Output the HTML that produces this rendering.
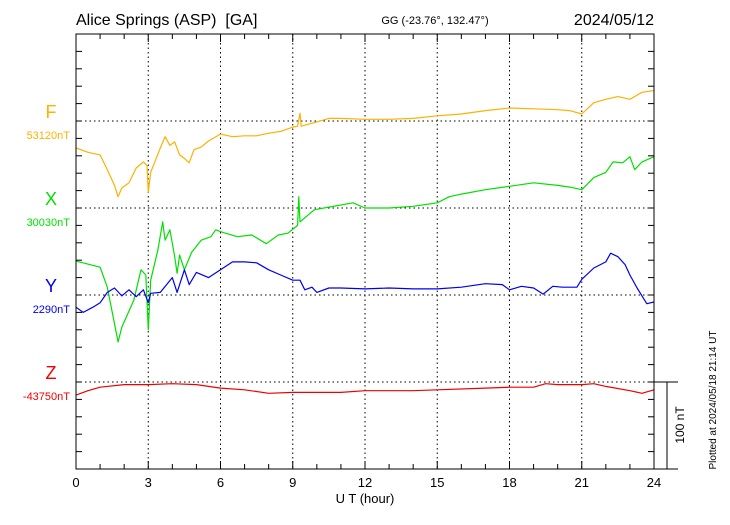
<!DOCTYPE html>
<html><head><meta charset="utf-8"><style>
body{margin:0;background:#fff}
svg{font-family:"Liberation Sans",sans-serif}
</style></head><body>
<svg id="chart" width="730" height="520" xmlns="http://www.w3.org/2000/svg">
<rect width="730" height="520" fill="#fff"/>
<g id="grid"></g>
<g id="series"></g>
<g id="axes"></g>
<text x="76" y="25" font-size="16">Alice Springs (ASP)&#160; [GA]</text>
<text x="435" y="24" font-size="11" text-anchor="middle">GG (-23.76°, 132.47°)</text>
<text x="654" y="25" font-size="16" text-anchor="end">2024/05/12</text>
<text x="365" y="503" font-size="13" text-anchor="middle">U T (hour)</text>
<text transform="translate(684,425) rotate(-90)" font-size="12" text-anchor="middle">100 nT</text>
<text transform="translate(716,400) rotate(-90)" font-size="10" text-anchor="middle">Plotted at 2024/05/18 21:14 UT</text>
</svg>
<script>
const hourTicks=[0,3,6,9,12,15,18,21,24];
const compNames=["F","X","Y","Z"];
const baselines=["53120nT","30030nT","2290nT","-43750nT"];
const compColors=["#FFB000","#00E000","#0000EE","#EE0000"];
const fT=[0,0.5,1,1.3,1.6,1.75,1.9,2.2,2.5,2.8,2.95,3.0,3.1,3.3,3.5,3.7,3.9,4.1,4.3,4.5,4.7,4.9,5.2,5.5,6,6.5,7,7.5,8,8.5,9,9.2,9.3,9.35,10,10.5,11,12,13,14,15,16,17,18,19,20,20.5,21,21.5,22,22.5,23,23.5,24];
const fV=[-31,-36,-39,-56,-74,-87,-77,-71,-54,-47,-51,-82,-59,-45,-31,-18,-28,-24,-39,-43,-48,-33,-30,-23,-15,-18,-17,-17,-14,-12,-7,-6,9,-6,-1,3,3,2,2,3,6,8,12,15,14,13,12,8,21,25,28,25,33,35];
const xT=[0,1,1.3,1.75,1.9,2.4,2.7,2.9,3.0,3.1,3.4,3.6,3.7,3.9,4.1,4.2,4.3,4.5,4.8,5.2,5.6,5.8,6.1,6.7,7.3,7.9,8.4,8.8,9.2,9.25,9.3,9.9,10.5,11.5,12,13,14,15,15.5,16,17,18,19,20,20.5,21,21.5,22,22.3,22.7,23,23.2,23.5,24];
const xV=[-61,-68,-91,-154,-137,-106,-71,-77,-140,-83,-48,-16,-37,-25,-56,-75,-54,-71,-51,-37,-33,-25,-28,-33,-31,-41,-31,-29,-20,13,-16,-2,1,6,0,0,2,6,13,16,21,25,29,26,24,21,35,41,53,52,59,44,53,59];
const yT=[0,0.3,0.7,1,1.3,1.6,1.9,2.2,2.5,2.8,3.0,3.1,3.5,4,4.2,4.5,4.7,5,5.5,6,6.5,7,7.5,8,8.5,9,9.3,9.5,9.8,10,10.5,11,12,13,14,15,16,17,17.7,18,18.5,19,19.4,19.8,20.2,20.8,21,21.5,22,22.2,22.5,22.8,23,23.3,23.5,23.7,24];
const yV=[-14,-20,-14,-9,3,8,-1,6,-2,6,-9,2,3,20,3,29,12,26,20,29,38,38,37,29,23,17,17,6,9,3,8,8,7,8,7,7,9,13,12,6,10,8,1,10,9,9,18,31,38,48,44,35,23,8,-1,-10,-8];
const zT=[0,0.5,1,2,3,4,5,6,7,8,9,10,11,12,14,15,17,18,19,19.5,20,21,21.5,22,23,23.5,24];
const zV=[-15,-10,-6,-3,-3,-2,-3,-7,-9,-13,-12,-12,-12,-10,-10,-9,-7,-6,-6,-2,-3,-3,-2,-5,-10,-13,-9];

const NS="http://www.w3.org/2000/svg";
const L=76,R=654,T=34,B=469,pxPerNT=0.87;
const baseY=[121,208,295,382];
const xs=h=>L+(R-L)*h/24;
const ys=(i,v)=>baseY[i]-v*pxPerNT;
function mk(tag,attrs,parent){const e=document.createElementNS(NS,tag);for(const k in attrs)e.setAttribute(k,attrs[k]);parent.appendChild(e);return e;}
const grid=document.getElementById('grid'),axes=document.getElementById('axes'),ser=document.getElementById('series'),svg=document.getElementById('chart');
hourTicks.slice(1,-1).forEach(h=>{const l=mk('line',{x1:xs(h),x2:xs(h),y1:T,y2:B,stroke:'#000','stroke-width':1,'stroke-dasharray':'1.5,3'},grid);

});
baseY.forEach(y=>{const l=mk('line',{x1:L,x2:R,y1:y,y2:y,stroke:'#000','stroke-width':1,'stroke-dasharray':'1.5,3'},grid);

});
const fr=mk('rect',{x:L,y:T,width:R-L,height:B-T,fill:'none',stroke:'#000','stroke-width':1},axes);


for(let y=B;y>=T;y-=87/5){mk('line',{x1:L,x2:L+6,y1:y,y2:y,stroke:'#000'},axes);mk('line',{x1:R-6,x2:R,y1:y,y2:y,stroke:'#000'},axes);}
for(let h=0;h<=24;h++){const len=h%3===0?8:5;mk('line',{x1:xs(h),x2:xs(h),y1:B,y2:B-len,stroke:'#000'},axes);mk('line',{x1:xs(h),x2:xs(h),y1:T,y2:T+len,stroke:'#000'},axes);}
hourTicks.forEach(h=>{const t=mk('text',{x:xs(h),y:487,'font-size':13,'text-anchor':'middle'},axes);t.textContent=h;

});
mk('line',{x1:R,x2:678,y1:382,y2:382,stroke:'#000'},axes);
mk('line',{x1:R,x2:678,y1:B,y2:B,stroke:'#000'},axes);
const sb=mk('line',{x1:667,x2:667,y1:382,y2:B,stroke:'#000'},axes);


compNames.forEach((n,i)=>{
 const a=mk('text',{x:51,y:baseY[i]-3,'font-size':18,fill:compColors[i],'text-anchor':'middle'},svg);a.textContent=n;
 
 
 const b=mk('text',{x:70,y:baseY[i]+18,'font-size':11,fill:compColors[i],'text-anchor':'end'},svg);b.textContent=baselines[i];
 
 
});
const all=[[fT,fV],[xT,xV],[yT,yV],[zT,zV]];
const names=['f-series-line','x-series-line','y-series-line','z-series-line'];
all.forEach(([t,v],i)=>{
 const d=t.map((h,k)=>(k?'L':'M')+xs(h).toFixed(1)+','+ys(i,v[k]).toFixed(1)).join('');
 const p=mk('path',{d:d,fill:'none',stroke:compColors[i],'stroke-width':1.2,'stroke-linejoin':'round'},ser);
 
 
});
</script>
</body></html>
